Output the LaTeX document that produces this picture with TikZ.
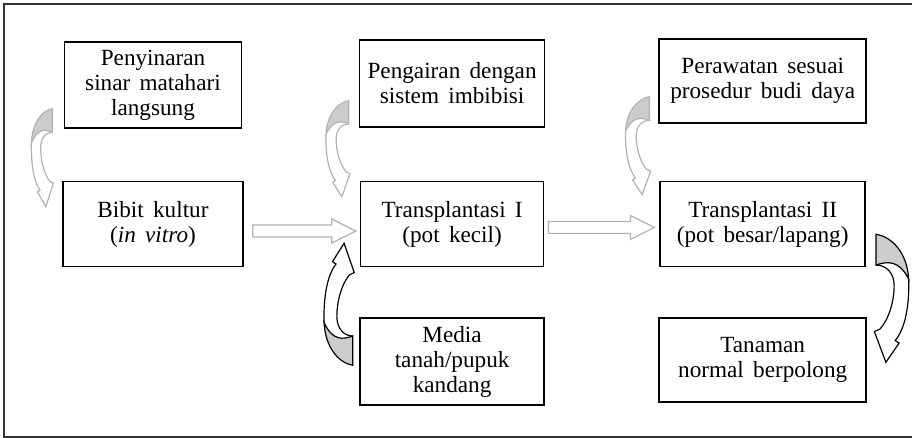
\documentclass[tikz,border=0pt]{standalone}
\usepackage{fontspec}
\setmainfont[WordSpace=1.6]{Liberation Serif}
\usetikzlibrary{positioning,calc}

\tikzset{
  box/.style={rectangle, draw, line width=0.8pt, minimum height=42.5pt, inner sep=1pt, align=center, font=\fontsize{11.6}{12.5}\selectfont},
  flowarrow/.style={draw=gray!60, fill=white, line width=0.6pt, line join=miter},
  % bent ribbon arrow, drawn in a unit box
  bendarrow/.pic={
    \fill[white] (1,1) .. controls (0.5,0.98) and (0.05,0.85) .. (0.01,0.65)
      .. controls (-0.02,0.42) and (0.15,0.25) .. (0.42,0.17)
      -- (0.3,0.15) -- (0.7,0) -- (1.05,0.24) -- (0.88,0.26)
      .. controls (0.6,0.34) and (0.45,0.48) .. (0.45,0.6)
      .. controls (0.45,0.7) and (0.7,0.76) .. (1,0.76) -- cycle;
    \filldraw[fill=gray!40, line width=0.6pt] (1,1) .. controls (0.5,0.98) and (0.05,0.85) .. (0.01,0.65)
      .. controls (0.3,0.8) and (0.65,0.79) .. (1,0.76) -- cycle;
    \draw[line width=0.6pt, line join=miter] (0.01,0.65)
      .. controls (-0.02,0.42) and (0.15,0.25) .. (0.42,0.17)
      -- (0.3,0.15) -- (0.7,0) -- (1.05,0.24) -- (0.88,0.26)
      .. controls (0.6,0.34) and (0.45,0.48) .. (0.45,0.6)
      .. controls (0.45,0.7) and (0.7,0.76) .. (1,0.76);
  },
}

\begin{document}
\begin{tikzpicture}[x=0.5pt, y=0.5pt]
    \useasboundingbox (0,0) rectangle (912,438);
    \draw[line width=0.75pt, black!80] (920,434) -- (4,434) -- (4,1) -- (920,1);

    % Main chain
    \node[box, minimum width=90pt] (bibit) at (153,214) {Bibit kultur\\(\textit{in vitro})};
    \node[box, minimum width=91.5pt, right=58pt of bibit] (transI) {Transplantasi I\\(pot kecil)};
    \node[box, minimum width=102.5pt, right=57.5pt of transI] (transII) {Transplantasi II\\(pot besar/lapang)};

    % Inputs
    \node[box, minimum width=88.5pt, minimum height=43pt, above=26pt of bibit] (sinar) {Penyinaran\\sinar matahari\\langsung};
    \node[box, minimum width=92.5pt, minimum height=43.5pt, above=26.5pt of transI] (air) {Pengairan dengan\\sistem imbibisi};
    \node[box, minimum width=92pt, minimum height=43.5pt, below=25pt of transI] (media) {Media\\tanah/pupuk\\kandang};
    \node[box, minimum width=103.5pt, minimum height=42pt, above=28.5pt of transII] (rawat) {Perawatan sesuai\\prosedur budi daya};

    % Output
    \node[box, minimum width=103.5pt, minimum height=42pt, below=25pt of transII] (hasil) {Tanaman\\normal berpolong};

    % Block arrows
    \coordinate (a1) at ($(bibit.east)+(4.5pt,-3.5pt)$);
    \coordinate (b1) at ($(transI.west)+(-2pt,-3.5pt)$);
    \coordinate (a2) at ($(transI.east)+(2pt,-1.75pt)$);
    \coordinate (b2) at ($(transII.west)+(-2.5pt,-1.75pt)$);
    \foreach \from/\to in {a1/b1, a2/b2}
      \draw[flowarrow] ($(\from)+(0,3pt)$) -- ($(\to)+(-12pt,3pt)$) -- ($(\to)+(-12pt,6pt)$) -- (\to)
        -- ($(\to)+(-12pt,-6pt)$) -- ($(\to)+(-12pt,-3pt)$) -- ($(\from)+(0,-3pt)$) -- cycle;

    % Bent arrows
    \pic[color=gray!60, xscale=21, yscale=98] at ($(bibit.north west)+(-15.5pt,-13pt)$) {bendarrow};
    \pic[color=gray!60, xscale=23, yscale=96] at ($(transI.north west)+(-17pt,-8pt)$) {bendarrow};
    \pic[color=gray!60, xscale=24, yscale=98] at ($(transII.north west)+(-17pt,-7pt)$) {bendarrow};
    \pic[color=black, xscale=29, yscale=-122] at ($(transI.south west)+(-18pt,12pt)$) {bendarrow};
    \pic[color=black, xscale=-33, yscale=128] at ($(transII.south east)+(21.5pt,-47.5pt)$) {bendarrow};
\end{tikzpicture}
\end{document}
